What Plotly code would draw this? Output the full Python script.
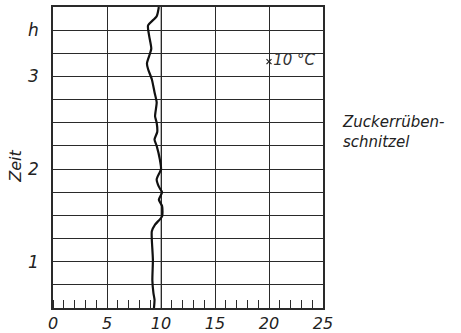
import plotly.graph_objects as go

# curve: time (h) vs temperature-like value
zeit_h = [0.50, 0.59, 0.66, 0.80, 1.02, 1.24, 1.33, 1.40, 1.49, 1.60, 1.67, 1.75, 1.81, 1.89,
          2.00, 2.10, 2.25, 2.32, 2.40, 2.50, 2.57, 2.72, 2.83, 2.97, 3.08, 3.14, 3.22, 3.30,
          3.44, 3.55, 3.65, 3.75]
wert = [9.35, 9.4, 9.3, 9.2, 9.25, 9.15, 9.15, 9.45, 10.1, 10.1, 9.8, 10.1, 9.8, 9.6,
        10.0, 9.9, 9.6, 9.4, 9.65, 9.6, 9.45, 9.6, 9.4, 9.15, 8.8, 8.7, 8.9, 9.1,
        8.9, 8.8, 9.6, 9.8]

x_ticks = [0, 5, 10, 15, 20, 25]
y_grid = [0.5 + 0.25 * i for i in range(14)]
y_labels = {1.0: "1", 2.0: "2", 3.0: "3", 3.5: "h"}
marker_pt = (20, 3.16)
marker_label = "10 °C"
side_label = "Zuckerrüben-<br>schnitzel"
y_title = "Zeit"

FONT = "DejaVu Sans"
dark = "#2a2a2a"

fig = go.Figure()
fig.add_trace(go.Scatter(x=wert, y=zeit_h, mode="lines",
                         line=dict(color="#111", width=2.2, shape="spline", smoothing=0.6),
                         showlegend=False, hoverinfo="skip"))
fig.add_trace(go.Scatter(x=[marker_pt[0]], y=[marker_pt[1]], mode="markers+text",
                         marker=dict(symbol="x-thin", size=5, line=dict(color="#222", width=1.2)),
                         text=["<i>" + marker_label + "</i>"], textposition="middle right",
                         textfont=dict(family=FONT, size=15, color="#333"),
                         showlegend=False, hoverinfo="skip"))

fig.update_layout(
    width=461, height=333,
    margin=dict(l=53, r=138, t=7, b=25),
    paper_bgcolor="white", plot_bgcolor="white",
    font=dict(family=FONT, color="#222"),
    xaxis=dict(range=[0, 25], tickvals=x_ticks, automargin=False,
               ticktext=["<i>%d</i>" % v for v in x_ticks],
               tickfont=dict(size=16, family=FONT, color="#222"),
               showgrid=True, gridcolor=dark, gridwidth=1.3,
               showline=True, linecolor=dark, linewidth=1.5, mirror=True,
               ticks="", zeroline=False, ticklabelstandoff=0,
               minor=dict(dtick=1, ticks="inside", ticklen=8, tickwidth=1.2,
                          tickcolor=dark, showgrid=False)),
    yaxis=dict(range=[0.5, 3.75], tickvals=y_grid, automargin=False,
               ticktext=["<i>" + y_labels[v] + "</i>" if v in y_labels else "" for v in y_grid],
               tickfont=dict(size=17, family=FONT, color="#222"),
               showgrid=True, gridcolor=dark, gridwidth=1.3,
               showline=True, linecolor=dark, linewidth=1.5, mirror=True,
               ticks="", zeroline=False, ticklabelstandoff=9),
)

fig.add_shape(type="line", xref="x", yref="paper", x0=10, x1=10, y0=0, y1=1,
              line=dict(color="#9a9a9a", width=1.5), layer="below")

fig.add_annotation(text="<i>" + y_title + "</i>", xref="paper", yref="paper",
                   x=-0.14, y=0.47, xanchor="center", yanchor="middle",
                   showarrow=False, textangle=-90,
                   font=dict(family=FONT, size=16, color="#222"))
fig.add_annotation(text="<i>" + side_label + "</i>", xref="paper", yref="paper",
                   x=1.063, y=0.585, xanchor="left", yanchor="middle", align="left",
                   showarrow=False,
                   font=dict(family=FONT, size=15, color="#222"))

fig.write_html("out.html", config={"displayModeBar": False},
               post_script="document.body.style.margin='0';")
